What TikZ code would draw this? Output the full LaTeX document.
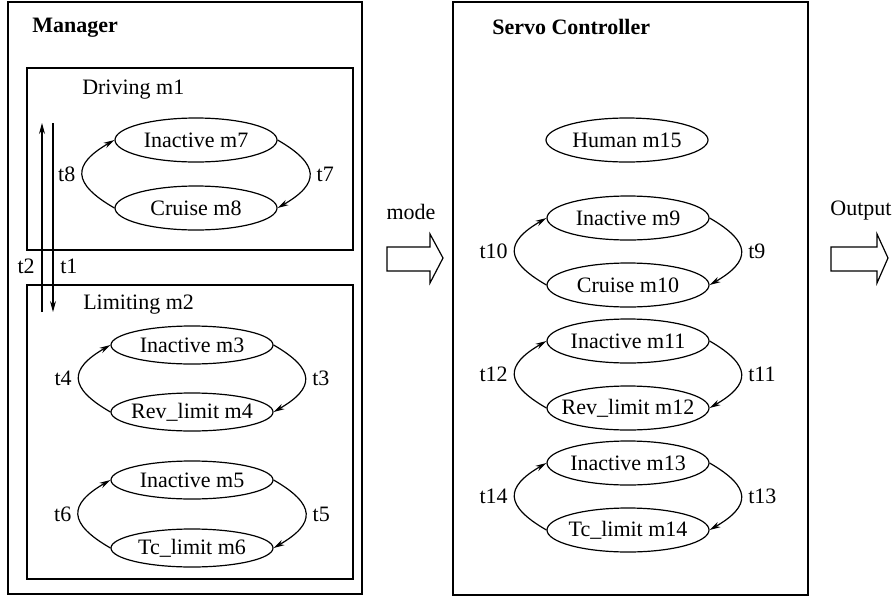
\documentclass[tikz,border=0pt]{standalone}
\usepackage{fontspec}
\setmainfont{Liberation Serif}
\usetikzlibrary{shapes.geometric,arrows.meta}
\tikzset{
  etat/.style={draw, ellipse, minimum width=81pt, minimum height=22pt,
    inner xsep=-5pt, inner ysep=0pt},
  petit/.style={minimum height=19pt},
  trans/.style={-{Stealth[length=5.5pt,width=3pt]}},
}
\begin{document}
\begin{tikzpicture}[x=0.5pt, y=-0.5pt, line width=0.6pt,
  font=\fontsize{11}{13}\selectfont]
\useasboundingbox (0,0) rectangle (895,600);
\draw (8,2) rectangle (362,594); % Manager
\node[anchor=west] (man) at (25,28) {\textbf{Manager}};
%
\draw (27,68) rectangle (353,250); % Driving
\node[anchor=west] (drv) at (75,90) {Driving m1};
\node[etat] (m7) at (196,140) {Inactive m7};
\node[etat] (m8) at (196,208) {Cruise m8};
\draw[trans] (m7.east) to[out=-30, in=30, looseness=1.85] node[midway, right]{t7} (m8.east);
\draw[trans] (m8.west) to[out=150, in=210, looseness=1.85] node[midway, left]{t8} (m7.west);
%
\draw (27,285) rectangle (353,579); % Limiting
\node[anchor=west] (lim) at (76,305) {Limiting m2};
\node[etat, petit] (m3) at (192,345) {Inactive m3};
\node[etat, petit] (m4) at (192,412) {Rev\_limit m4};
\draw[trans] (m3.east) to[out=-30, in=30, looseness=1.85] node[midway, right]{t3} (m4.east);
\draw[trans] (m4.west) to[out=150, in=210, looseness=1.85] node[midway, left]{t4} (m3.west);
\node[etat, petit] (m5) at (192,480) {Inactive m5};
\node[etat, petit] (m6) at (192,548) {Tc\_limit m6};
\draw[trans] (m5.east) to[out=-30, in=30, looseness=1.85] node[midway, right]{t5} (m6.east);
\draw[trans] (m6.west) to[out=150, in=210, looseness=1.85] node[midway, left]{t6} (m5.west);
%
\coordinate (t1a) at (53,123);
\coordinate (t1b) at (53,312);
\coordinate (t2a) at (42,312);
\coordinate (t2b) at (42,123);
\draw[trans] (t1a) -- node[pos=0.76, right]{t1} (t1b);
\draw[trans] (t2a) -- node[pos=0.24, left]{t2} (t2b);
%
\draw (453,2) rectangle (808,595); % Servo
\node[anchor=west] (srv) at (485,27) {\textbf{Servo Controller}};
\node[etat] (m15) at (627,140) {Human m15};
\node[etat] (m9) at (628,218) {Inactive m9};
\node[etat] (m10) at (628,285) {Cruise m10};
\draw[trans] (m9.east) to[out=-30, in=30, looseness=1.85] node[midway, right]{t9} (m10.east);
\draw[trans] (m10.west) to[out=150, in=210, looseness=1.85] node[midway, left]{t10} (m9.west);
\node[etat] (m11) at (628,341) {Inactive m11};
\node[etat] (m12) at (628,408) {Rev\_limit m12};
\draw[trans] (m11.east) to[out=-30, in=30, looseness=1.85] node[midway, right]{t11} (m12.east);
\draw[trans] (m12.west) to[out=150, in=210, looseness=1.85] node[midway, left]{t12} (m11.west);
\node[etat] (m13) at (628,463) {Inactive m13};
\node[etat] (m14) at (628,530) {Tc\_limit m14};
\draw[trans] (m13.east) to[out=-30, in=30, looseness=1.85] node[midway, right]{t13} (m14.east);
\draw[trans] (m14.west) to[out=150, in=210, looseness=1.85] node[midway, left]{t14} (m13.west);
%
\node (mode) at (411,212) {mode};
\draw (387,247) -- (430,247) -- (430,234) -- (443,258) -- (430,283)
  -- (430,271) -- (387,271) -- cycle; % Fleche mode
\node (out) at (861,211) {Output};
\draw (831,247) -- (877,247) -- (877,234) -- (888,258) -- (877,283)
  -- (877,271) -- (831,271) -- cycle; % Fleche Output
\end{tikzpicture}
\end{document}
